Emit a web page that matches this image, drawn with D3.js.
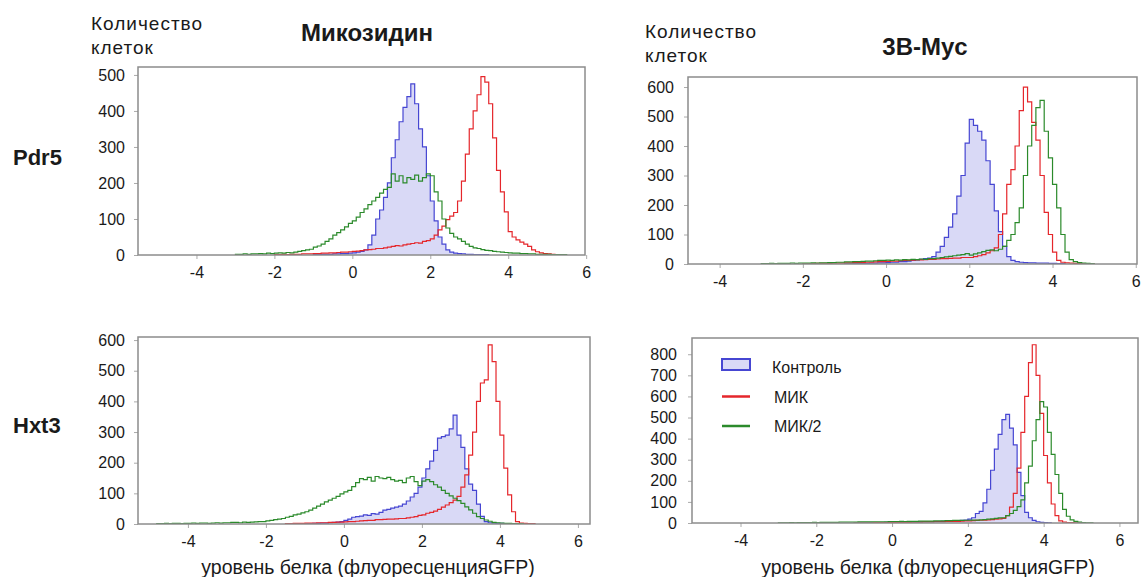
<!DOCTYPE html>
<html>
<head>
<meta charset="utf-8">
<script src="https://cdn.jsdelivr.net/npm/d3@7"></script>
<style>
  body { margin: 0; background: #fff; }
  svg text { font-family: "Liberation Sans", Arial, sans-serif; fill: #1a1a1a; }
</style>
</head>
<body>
<svg id="chart" width="1141" height="577"></svg>
<script>
// ---- data (histogram counts, bin width 0.1 log units) ----
const binWidth = 0.1;
const xTicks = [-4, -2, 0, 2, 4, 6];
const legendLabels = ["Контроль", "МИК", "МИК/2"];
const rowLabels = ["Pdr5", "Hxt3"];
const colTitles = ["Микозидин", "3B-Myc"];

// Pdr5 / Микозидин : starts for [control, МИК, МИК/2]
const pdr5MicStarts = [-1.0, -2.0, -3.0];
const pdr5MicControl = [1,1,2,2,2,3,3,4,4,5, 6,8,10,14,28,55,100,125,160,200,
  270,320,370,410,440,475,420,350,300,220, 150,95,50,30,14,8,5,4,3,2, 2,1,1,1,1];
const pdr5MicMik = [1,1,2,1,2,2,2,3,3,3, 4,4,5,5,6,6,7,8,8,9, 10,11,12,14,15,16,18,18,20,22,
  24,26,25,28,30,32,34,33,38,40, 45,55,70,80,98,108,118,150,205,280,
  350,400,445,495,480,420,325,235,175,120, 65,50,42,36,30,24,14,9,6,4, 3,2,1];
const pdr5MicMik2 = [2,2,3,2,3,3,4,3,5,4, 5,6,5,7,6,8,10,12,14,16, 22,25,30,38,45,55,62,70,78,88,
  95,105,118,128,140,150,160,172,182,188, 225,205,220,200,215,210,222,205,215,225,
  220,175,150,100,75,60,50,45,38,30, 24,20,18,15,13,12,10,9,8,7, 6,5,5,4,4,3,3,2,2,2, 2,1,1,1,1];

// Pdr5 / 3B-Myc
const pdr5MycStarts = [-1.0, -2.0, -3.0];
const pdr5MycControl = [1,1,1,2,2,2,3,3,4,4, 5,6,6,8,8,10,12,14,16,18,
  20,25,40,60,90,125,170,230,300,410, 490,470,450,420,350,270,180,110,60,25,
  12,8,6,5,4,4,3,3,3,2, 2,1,1];
const pdr5MycMik = [1,1,1,2,2,2,2,3,3,3, 4,4,5,5,5,6,6,7,8,8, 9,10,10,11,12,12,13,14,14,15,
  16,16,17,18,18,19,20,20,22,22, 22,25,28,32,38,45,55,100,170,270,
  320,400,520,600,550,480,420,300,175,100, 40,12,6,4,3,2,2,1,1,1];
const pdr5MycMik2 = [1,1,2,1,2,2,2,3,2,3, 3,3,4,3,4,4,5,5,6,6, 7,7,8,8,9,10,10,11,12,12,
  13,12,14,13,15,14,16,15,17,16, 18,18,20,22,24,26,28,30,32,35,
  30,34,38,42,46,48,45,50,60,80, 100,140,190,300,400,470,530,555,450,360,
  270,190,100,40,15,8,5,3,2,1];

// Hxt3 / Микозидин
const hxt3MicStarts = [-1.0, -1.5, -4.8];
const hxt3MicControl = [1,1,2,2,3,3,4,5,6,8, 12,16,22,24,26,30,28,34,32,38,
  45,48,52,55,58,65,75,88,100,120, 150,180,205,240,280,285,290,310,355,290,
  250,180,130,110,65,25,8,4,3,2, 2,1,1];
const hxt3MicMik = [1,1,2,2,2,3,3,3,4,4, 4,5,5,6,6,7,8,8,9,10, 11,12,12,14,14,15,16,16,17,18,
  18,20,22,24,28,30,35,38,42,48, 55,62,70,78,90,120,160,225,300,400,
  460,470,584,530,400,290,182,95,40,8, 3,2,1,1];
const hxt3MicMik2 = [1,1,2,1,2,2,1,2,2,3, 2,3,3,2,3,4,3,4,4,5, 5,4,6,5,6,7,8,8,10,12,
  14,16,18,22,25,30,32,36,40,45, 52,58,65,72,78,84,90,98,105,110,
  122,135,148,145,152,140,155,150,148,152, 145,140,142,135,150,155,138,125,140,145,
  138,128,120,110,100,92,84,76,67,56, 46,35,24,18,13,9,5,4,3,2, 2,1,1,1];

// Hxt3 / 3B-Myc
const hxt3MycStarts = [-1.0, -1.0, -3.0];
const hxt3MycControl = [1,1,1,1,2,2,2,2,3,3, 3,3,4,4,4,5,5,5,6,6, 6,7,7,8,8,9,10,11,12,14,
  18,25,45,55,95,160,250,350,420,490, 515,450,370,240,130,50,25,12,6,3, 2,1];
const hxt3MycMik = [1,1,1,1,1,2,2,2,2,2, 2,3,3,3,3,4,4,4,5,5, 5,6,6,6,7,7,8,8,9,10,
  10,11,12,13,14,15,16,18,20,22, 35,75,140,260,430,600,760,845,700,520,
  320,190,90,35,10,4,2,2,1,1];
const hxt3MycMik2 = [1,1,1,2,1,2,2,2,2,3, 2,3,3,3,3,3,4,4,4,4, 4,5,5,5,5,6,6,6,6,7,
  7,7,8,7,8,8,8,9,9,9, 9,10,10,10,11,11,12,12,12,13, 13,14,14,15,16,18,20,22,24,25,
  35,45,60,78,110,190,270,390,490,575, 550,430,325,230,140,65,32,15,8,4, 2,1,1];

// ---- layout ----
const panels = [
  { left: 138, right: 585, top: 67, bottom: 255, xDom: [-5.5, 5.97], yMax: 522,
    yTicks: d3.range(0, 501, 100), starts: pdr5MicStarts,
    series: [pdr5MicControl, pdr5MicMik, pdr5MicMik2], labelGap: 13 },
  { left: 688, right: 1137, top: 77, bottom: 264, xDom: [-4.76, 6.03], yMax: 634,
    yTicks: d3.range(0, 601, 100), starts: pdr5MycStarts,
    series: [pdr5MycControl, pdr5MycMik, pdr5MycMik2], labelGap: 14 },
  { left: 138, right: 590, top: 337, bottom: 524, xDom: [-5.28, 6.31], yMax: 610,
    yTicks: d3.range(0, 601, 100), starts: hxt3MicStarts,
    series: [hxt3MicControl, hxt3MicMik, hxt3MicMik2], labelGap: 13 },
  { left: 692, right: 1138, top: 338, bottom: 523, xDom: [-5.28, 6.49], yMax: 877,
    yTicks: d3.range(0, 801, 100), starts: hxt3MycStarts,
    series: [hxt3MycControl, hxt3MycMik, hxt3MycMik2], labelGap: 15, legend: true }
];

const colors = ["#4646d2", "#e5262b", "#2b8a2b"];
const fillBlue = "#d9d9f6";

const svg = d3.select("#chart");
svg.append("rect").attr("width", 1141).attr("height", 577).attr("fill", "#fff");

function histPoints(start, counts) {
  const pts = counts.map((c, i) => [start + i * binWidth, c]);
  const end = start + counts.length * binWidth;
  pts.unshift([start, 0]);
  pts.push([end, counts[counts.length - 1]]);
  pts.push([end, 0]);
  return pts;
}

panels.forEach((p, pi) => {
  const x = d3.scaleLinear().domain(p.xDom).range([p.left, p.right]);
  const y = d3.scaleLinear().domain([0, p.yMax]).range([p.bottom, p.top]);
  const g = svg.append("g");

  const clipId = "clip" + pi;
  g.append("clipPath").attr("id", clipId).append("rect")
    .attr("x", p.left).attr("y", p.top).attr("width", p.right - p.left).attr("height", p.bottom - p.top);

  // axes (plain hyphen minus like the original)
  const xAxis = g.append("g").attr("transform", "translate(0," + p.bottom + ")")
    .call(d3.axisBottom(x).tickValues(xTicks).tickSize(4).tickPadding(8).tickFormat(d => String(d)));
  const yAxis = g.append("g").attr("transform", "translate(" + p.left + ",0)")
    .call(d3.axisLeft(y).tickValues(p.yTicks).tickSize(4).tickPadding(p.labelGap - 4).tickFormat(d => String(d)));
  [xAxis, yAxis].forEach(a => {
    a.select(".domain").remove();
    a.selectAll(".tick line").attr("stroke", "#aaa");
    a.selectAll(".tick text").style("font-size", "16px").style("font-family", "'Liberation Sans', Arial, sans-serif").attr("fill", "#1a1a1a");
  });

  const plot = g.append("g").attr("clip-path", "url(#" + clipId + ")");
  const line = d3.line().x(d => x(d[0])).y(d => y(d[1])).curve(d3.curveStepAfter);
  const area = d3.area().x(d => x(d[0])).y0(y(0)).y1(d => y(d[1])).curve(d3.curveStepAfter);

  const ctrl = histPoints(p.starts[0], p.series[0]);
  plot.append("path").attr("d", area(ctrl)).attr("fill", fillBlue);
  [0, 1, 2].forEach(k => {
    plot.append("path").attr("d", line(histPoints(p.starts[k], p.series[k])))
      .attr("fill", "none").attr("stroke", colors[k]).attr("stroke-width", 1.2);
  });

  // frame
  g.append("rect").attr("x", p.left).attr("y", p.top)
    .attr("width", p.right - p.left).attr("height", p.bottom - p.top)
    .attr("fill", "none").attr("stroke", "#8c8c8c").attr("stroke-width", 1.5);

  if (p.legend) {
    const lg = g.append("g").attr("transform", "translate(" + (p.left + 30) + "," + (p.top + 30) + ")");
    legendLabels.forEach((lab, k) => {
      const row = lg.append("g").attr("transform", "translate(0," + (k * 29.5) + ")");
      if (k === 0) {
        row.append("rect").attr("x", 0).attr("y", -9).attr("width", 28).attr("height", 11)
          .attr("fill", fillBlue).attr("stroke", colors[0]).attr("stroke-width", 2);
      } else {
        row.append("line").attr("x1", 0).attr("x2", 28).attr("y1", -1).attr("y2", -1)
          .attr("stroke", colors[k]).attr("stroke-width", 2.5);
      }
      row.append("text").attr("x", k === 0 ? 50 : 52).attr("y", 0).attr("dy", "0.32em")
        .style("font-size", "16px").text(lab);
    });
  }
});

// headings
const yTitle = [{ x: 91, y: 23 }, { x: 645, y: 31 }];
yTitle.forEach(t => {
  svg.append("text").attr("x", t.x).attr("y", t.y).attr("dy", "0.35em").style("font-size", "19px")
    .style("letter-spacing", "1px").text("Количество");
  svg.append("text").attr("x", t.x).attr("y", t.y + 24).attr("dy", "0.35em").style("font-size", "19px")
    .style("letter-spacing", "1px").text("клеток");
});
[{ x: 367, y: 33 }, { x: 925, y: 47 }].forEach((t, i) => {
  svg.append("text").attr("x", t.x).attr("y", t.y).attr("dy", "0.35em").attr("text-anchor", "middle")
    .style("font-size", "24px").style("font-weight", "bold").text(colTitles[i]);
});
[157, 425].forEach((yy, i) => {
  svg.append("text").attr("x", 13).attr("y", yy).attr("dy", "0.35em")
    .style("font-size", "22px").style("font-weight", "bold").text(rowLabels[i]);
});
[368, 928].forEach(cx => {
  svg.append("text").attr("x", cx).attr("y", 567).attr("dy", "0.35em").attr("text-anchor", "middle")
    .style("font-size", "19.5px").text("уровень белка (флуоресценцияGFP)");
});
</script>
</body>
</html>
